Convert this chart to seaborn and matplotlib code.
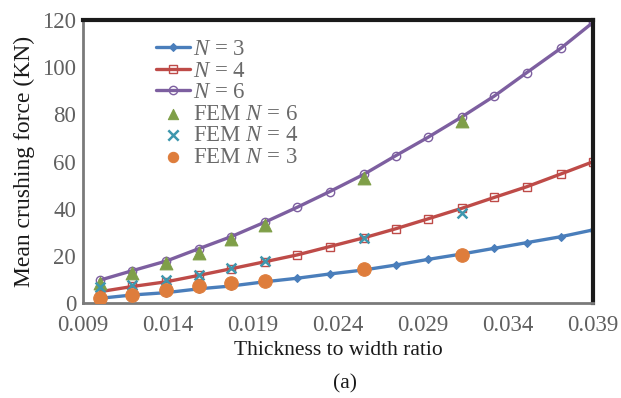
import matplotlib
matplotlib.use("Agg")
import matplotlib.pyplot as plt
import seaborn as sns
import pandas as pd

sns.set_style("white")
plt.rcParams['font.family'] = ['Liberation Serif', 'DejaVu Serif']
plt.rcParams['mathtext.fontset'] = 'custom'
plt.rcParams['mathtext.rm'] = 'Liberation Serif'
plt.rcParams['mathtext.it'] = 'Liberation Serif:italic'

# ---- data ----
ratio = [0.0100, 0.0119, 0.0139, 0.0158, 0.0177, 0.0197, 0.0216, 0.0235,
         0.0255, 0.0274, 0.0293, 0.0313, 0.0332, 0.0351, 0.0371, 0.0390]
force_n3 = [2.0, 3.4, 4.4, 6.0, 7.2, 9.0, 10.5, 12.3, 14.0, 16.1, 18.5, 20.8,
            23.2, 25.6, 28.1, 31.0]
force_n4 = [4.8, 7.0, 9.0, 11.7, 14.5, 17.5, 20.4, 23.9, 27.6, 31.5, 35.7, 40.2,
            44.8, 49.3, 54.7, 59.9]
force_n6 = [9.7, 13.7, 17.8, 23.0, 28.1, 34.3, 40.6, 47.2, 54.5, 62.5, 70.3, 79.0,
            87.8, 97.7, 108.0, 119.0]

fem_ratio = [0.0100, 0.0119, 0.0139, 0.0158, 0.0177, 0.0197, 0.0255, 0.0313]
fem_n6 = [8.6, 12.8, 16.8, 21.3, 27.0, 32.9, 52.9, 77.3]
fem_n4 = [6.6, 7.6, 9.8, 11.9, 14.7, 17.8, 27.4, 38.3]
fem_n3 = [2.0, 3.4, 5.5, 7.3, 8.4, 9.5, 14.3, 20.4]

x_ticks = [0.009, 0.014, 0.019, 0.024, 0.029, 0.034, 0.039]
y_ticks = [0, 20, 40, 60, 80, 100, 120]

c_blue, c_red, c_purple = '#4A7EBB', '#BE4B48', '#7D5FA0'
c_green, c_teal, c_orange = '#7F9F48', '#3E97AE', '#DE7D3C'

fig = plt.figure(figsize=(6.21, 3.98), dpi=100)
ax = fig.add_axes([0.1337, 0.2387, 0.8213, 0.711])

sns.lineplot(x=ratio, y=force_n3, ax=ax, color=c_blue, lw=2.4, marker='D',
             markersize=4, markeredgecolor=c_blue, label=r'$N$ = 3')
sns.lineplot(x=ratio, y=force_n4, ax=ax, color=c_red, lw=2.4, marker='s',
             markersize=6, markerfacecolor='none', markeredgecolor=c_red,
             markeredgewidth=1.0, label=r'$N$ = 4')
sns.lineplot(x=ratio, y=force_n6, ax=ax, color=c_purple, lw=2.4, marker='o',
             markersize=6, markerfacecolor='none', markeredgecolor=c_purple,
             markeredgewidth=1.0, label=r'$N$ = 6')
sns.scatterplot(x=fem_ratio, y=fem_n6, ax=ax, color=c_green, marker='^', s=85,
                edgecolor=c_green, label=r'FEM $N$ = 6', zorder=5)
sns.scatterplot(x=fem_ratio, y=fem_n4, ax=ax, color=c_teal, marker='x', s=50,
                linewidth=1.8, label=r'FEM $N$ = 4', zorder=6)
sns.scatterplot(x=fem_ratio, y=fem_n3, ax=ax, color=c_orange, marker='o', s=95,
                edgecolor=c_orange, label=r'FEM $N$ = 3', zorder=7)

ax.set_xlim(0.009, 0.039)
ax.set_ylim(0, 120)
ax.set_xticks(x_ticks)
ax.set_xticklabels([f'{v:.3f}' for v in x_ticks])
ax.set_yticks(y_ticks)
ax.tick_params(axis='both', labelsize=16.5, labelcolor='#606060', length=0)
ax.tick_params(axis='x', pad=8.5)
ax.tick_params(axis='y', pad=5)

ax.set_xlabel('Thickness to width ratio', fontsize=15.5, color='#1a1a1a', labelpad=3.5)
ax.set_ylabel('Mean crushing force (KN)', fontsize=17, color='#1a1a1a', labelpad=5)

for side in ['top', 'right']:
    ax.spines[side].set_color('#1a1a1a')
    ax.spines[side].set_linewidth(3)
for side in ['left', 'bottom']:
    ax.spines[side].set_color('#7a7a7a')
    ax.spines[side].set_linewidth(2)

leg = ax.legend(loc='upper left', bbox_to_anchor=(0.125, 0.965), frameon=False,
                fontsize=16.5, handlelength=1.5, handletextpad=0.1,
                labelspacing=0.02, borderaxespad=0)
for t in leg.get_texts():
    t.set_color('#6a6a6a')
for h in leg.legend_handles[3:]:
    h.set_sizes([55])

fig.text(0.555, 0.035, '(a)', fontsize=15.5, ha='center', va='center', color='#1a1a1a')

fig.savefig('out.png', dpi=100)
